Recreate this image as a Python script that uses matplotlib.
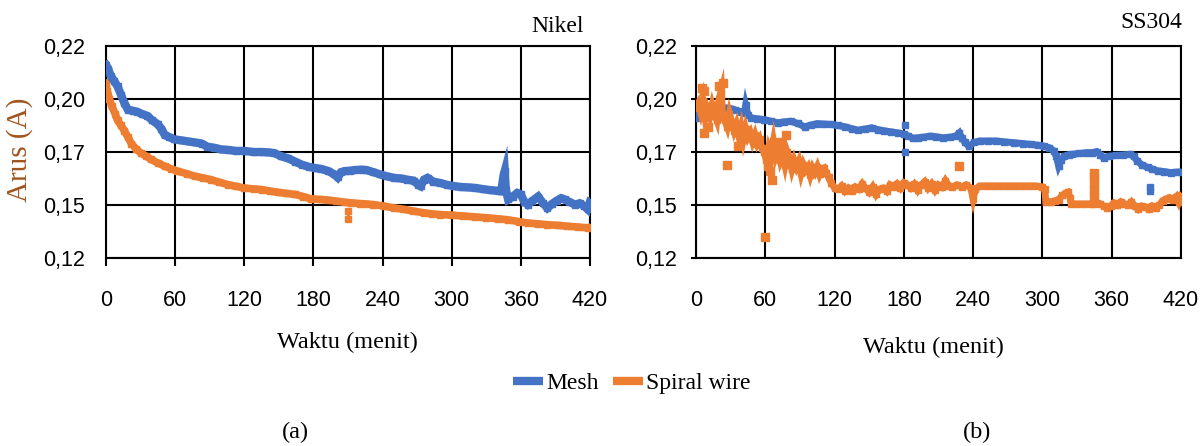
import matplotlib
matplotlib.use('Agg')
import matplotlib.pyplot as plt
from matplotlib.lines import Line2D

BLUE = '#4472C4'
ORANGE = '#ED7D31'

# Nikel, Mesh
nik_mesh_t = [0, 2, 4, 7, 10, 13, 16, 19, 23, 27, 31, 36, 40, 45, 48, 51, 55, 59, 65, 71,
              77, 83, 88, 94, 100, 106, 113, 120, 128, 135, 141, 146, 152, 158, 164, 170,
              176, 181, 187, 193, 198, 201, 204, 207, 212, 216, 222, 226, 232, 238, 244,
              250, 256, 261, 267, 271, 273, 276, 279, 284, 290, 296, 302, 308, 314, 320,
              327, 334, 340, 343, 345, 346, 347, 349, 353, 357, 360, 363, 366, 370, 375,
              379, 383, 387, 391, 395, 398, 402, 407, 411, 415, 418, 420]
nik_mesh_v = [0.211, 0.209, 0.206, 0.2035, 0.201, 0.197, 0.193, 0.190, 0.1895, 0.189, 0.188,
              0.187, 0.185, 0.183, 0.181, 0.178, 0.177, 0.176, 0.1755, 0.175, 0.1745, 0.174,
              0.1725, 0.172, 0.1712, 0.171, 0.1705, 0.1705, 0.170, 0.170, 0.1698, 0.1695,
              0.168, 0.167, 0.1655, 0.164, 0.163, 0.1625, 0.162, 0.161, 0.1595, 0.158, 0.1605,
              0.161, 0.1612, 0.1615, 0.1617, 0.1615, 0.1605, 0.1594, 0.1585, 0.1578, 0.1575,
              0.157, 0.1565, 0.1545, 0.1539, 0.157, 0.1578, 0.156, 0.1554, 0.1545, 0.1539,
              0.1535, 0.1533, 0.1531, 0.1525, 0.152, 0.1517, 0.1515, 0.159, 0.161, 0.152,
              0.1476, 0.149, 0.1507, 0.150, 0.1465, 0.1452, 0.147, 0.149, 0.146, 0.1436,
              0.1455, 0.147, 0.1482, 0.1476, 0.1465, 0.1452, 0.1458, 0.1445, 0.143, 0.1465]

# Nikel, Spiral wire
nik_spiral_t = [0, 1, 3, 5, 8, 10, 13, 16, 19, 22, 26, 30, 35, 39, 45, 51, 56, 62, 70, 77,
                84, 91, 98, 106, 113, 120, 128, 135, 142, 149, 156, 164, 171, 178, 186, 193,
                200, 207, 213, 220, 226, 232, 241, 250, 258, 266, 276, 283, 290, 300, 310,
                320, 330, 340, 349, 358, 366, 375, 383, 392, 400, 410, 418, 420]
nik_spiral_v = [0.2025, 0.199, 0.195, 0.1915, 0.188, 0.185, 0.1825, 0.180, 0.177, 0.174,
                0.1715, 0.1696, 0.168, 0.1665, 0.1648, 0.1633, 0.1622, 0.161, 0.1598, 0.1586,
                0.1578, 0.157, 0.1558, 0.1546, 0.1538, 0.153, 0.1526, 0.1523, 0.1516, 0.151,
                0.1505, 0.150, 0.149, 0.1479, 0.1476, 0.1473, 0.1468, 0.1463, 0.146, 0.1457,
                0.1455, 0.1452, 0.1445, 0.1436, 0.143, 0.1422, 0.1413, 0.1408, 0.1405, 0.1402,
                0.1398, 0.1394, 0.139, 0.1385, 0.138, 0.1372, 0.1365, 0.1361, 0.1357, 0.1354,
                0.135, 0.1346, 0.1342, 0.1345]
nik_spiral_out_t = [210, 210]
nik_spiral_out_v = [0.142, 0.1385]

# SS304, Mesh
ss_mesh_t = [0, 1, 3, 5, 8, 11, 13, 17, 20, 22, 26, 30, 34, 39, 42, 43, 45, 48, 53, 59, 65,
             71, 76, 82, 88, 94, 100, 105, 111, 117, 123, 129, 135, 140, 146, 152, 158, 163,
             169, 175, 180, 184, 188, 192, 197, 203, 208, 214, 220, 225, 228, 230, 233, 236,
             241, 246, 253, 260, 267, 275, 283, 290, 296, 301, 306, 310, 312, 314, 316, 319,
             323, 326, 332, 338, 343, 347, 350, 353, 358, 364, 370, 376, 379, 382, 386, 391,
             395, 400, 405, 411, 416, 420]
ss_mesh_v = [0.186, 0.1895, 0.1915, 0.1925, 0.190, 0.189, 0.1885, 0.1905, 0.191, 0.190,
             0.1908, 0.1905, 0.1898, 0.189, 0.1885, 0.192, 0.1875, 0.186, 0.1857, 0.1853,
             0.1845, 0.1838, 0.1842, 0.1845, 0.1835, 0.1819, 0.1828, 0.1834, 0.1832, 0.183,
             0.1825, 0.1819, 0.181, 0.1803, 0.1808, 0.1814, 0.1805, 0.180, 0.1795, 0.179,
             0.1785, 0.1775, 0.1765, 0.1767, 0.177, 0.1775, 0.1772, 0.1767, 0.177, 0.1775,
             0.179, 0.1768, 0.1745, 0.1728, 0.1745, 0.1752, 0.1752, 0.1752, 0.1748, 0.1744,
             0.174, 0.1736, 0.1732, 0.1728, 0.172, 0.1705, 0.168, 0.1635, 0.166, 0.1681,
             0.1688, 0.1689, 0.1693, 0.1697, 0.1697, 0.1702, 0.1688, 0.1673, 0.168, 0.1684,
             0.1686, 0.1689, 0.168, 0.1658, 0.164, 0.1627, 0.162, 0.1611, 0.1608, 0.1603,
             0.1605, 0.1606]
ss_mesh_out_t = [181, 181, 393, 393]
ss_mesh_out_v = [0.1825, 0.1700, 0.1515, 0.1535]

# SS304, Spiral wire
ss_spiral_t = [0, 2, 4, 6, 8, 10, 12, 14, 16, 18, 20, 22, 23, 25, 27, 29, 31, 33, 35, 37,
               39, 41, 43, 45, 47, 49, 51, 53, 55, 57, 59, 61, 63, 65, 67, 69, 71, 73, 75,
               77, 79, 81, 83, 85, 87, 89, 91, 93, 95, 97, 99, 101, 103, 105, 107, 109, 111,
               113, 115, 117, 120, 123, 126, 129, 132, 135, 138, 141, 144, 147, 150, 153,
               156, 159, 162, 165, 168, 171, 174, 177, 180, 183, 186, 189, 192, 195, 198,
               201, 204, 207, 210, 213, 216, 219, 222, 226, 230, 234, 238, 240, 242, 246,
               252, 258, 264, 270, 276, 282, 288, 294, 300, 302, 303, 307, 311, 314, 317,
               320, 322, 324, 325, 330, 336, 342, 345, 347, 350, 353, 356, 359, 362, 365,
               368, 371, 374, 377, 380, 383, 386, 389, 392, 395, 398, 401, 404, 407, 410,
               413, 416, 418, 420]
ss_spiral_v = [0.191, 0.193, 0.189, 0.194, 0.186, 0.190, 0.187, 0.192, 0.188, 0.185, 0.195,
               0.199, 0.186, 0.185, 0.182, 0.188, 0.184, 0.180, 0.183, 0.178, 0.182, 0.176,
               0.181, 0.177, 0.179, 0.175, 0.178, 0.174, 0.176, 0.172, 0.170, 0.166, 0.172,
               0.169, 0.175, 0.168, 0.171, 0.166, 0.169, 0.164, 0.170, 0.167, 0.162, 0.166,
               0.163, 0.1655, 0.160, 0.164, 0.1615, 0.163, 0.159, 0.1625, 0.1605, 0.163,
               0.1595, 0.162, 0.1625, 0.160, 0.158, 0.1555, 0.153, 0.1525, 0.154, 0.1515,
               0.153, 0.1517, 0.1535, 0.1525, 0.155, 0.1528, 0.151, 0.1535, 0.150, 0.1525,
               0.153, 0.1515, 0.1545, 0.1535, 0.155, 0.153, 0.1555, 0.1545, 0.153, 0.1548,
               0.152, 0.1545, 0.156, 0.153, 0.155, 0.152, 0.1545, 0.1535, 0.1565, 0.154,
               0.1535, 0.1545, 0.1535, 0.1545, 0.153, 0.148, 0.1525, 0.154, 0.154, 0.154,
               0.154, 0.154, 0.154, 0.154, 0.154, 0.154, 0.1535, 0.1525, 0.1465, 0.1465,
               0.147, 0.1475, 0.1495, 0.1505, 0.151, 0.1485, 0.1455, 0.1455, 0.1455, 0.1455,
               0.1455, 0.146, 0.1455, 0.1445, 0.1435, 0.1445, 0.146, 0.145, 0.1465, 0.1455,
               0.145, 0.1465, 0.1445, 0.143, 0.1445, 0.144, 0.143, 0.1445, 0.1435, 0.1448,
               0.147, 0.1478, 0.1485, 0.1475, 0.149, 0.1465, 0.1494]
ss_spiral_out_t = [5, 7, 7, 10, 20, 23, 27, 36, 60, 62, 64, 66, 70, 74, 78, 228,
                   345, 345, 345, 345, 345]
ss_spiral_out_v = [0.200, 0.1986, 0.179, 0.182, 0.201, 0.2025, 0.1637, 0.173, 0.1298,
                   0.1635, 0.161, 0.157, 0.1735, 0.1745, 0.178, 0.1635,
                   0.149, 0.152, 0.155, 0.158, 0.1603]

yticks = [0.12, 0.145, 0.17, 0.195, 0.22]
ytick_labels = ['0,12', '0,15', '0,17', '0,20', '0,22']
xticks = [0, 60, 120, 180, 240, 300, 360, 420]

SERIF = ['Liberation Serif', 'DejaVu Serif']
SANS = ['Liberation Sans', 'DejaVu Sans']

W, H = 1200, 446


def fx(px):
    return px / W


def fy(py):
    return 1 - py / H


def style_axes(ax, xtick_len, ytick_len, xpad, ypad):
    ax.set_xlim(0, 420)
    ax.set_ylim(0.12, 0.22)
    ax.set_xticks(xticks)
    ax.set_yticks(yticks)
    ax.set_yticklabels(ytick_labels)
    ax.grid(True, color='black', linewidth=1.5)
    ax.set_axisbelow(True)
    for s in ax.spines.values():
        s.set_color('black')
        s.set_linewidth(1.5)
    ax.tick_params(axis='x', length=xtick_len, width=1.5, pad=xpad, labelsize=15.5)
    ax.tick_params(axis='y', length=ytick_len, width=1.5, pad=ypad, labelsize=15.5)
    for lbl in ax.get_xticklabels() + ax.get_yticklabels():
        lbl.set_family(SANS)


fig = plt.figure(figsize=(12, 4.46), dpi=100)

ax1 = fig.add_axes([fx(106), fy(258), fx(590 - 106), (258 - 46) / H])
ax2 = fig.add_axes([fx(696), fy(258), fx(1181 - 696), (258 - 46) / H])

# (a) Nikel
ax1.plot(nik_spiral_t, nik_spiral_v, color=ORANGE, lw=5.5, marker='s', ms=4.5,
         solid_joinstyle='miter', zorder=3)
ax1.plot(nik_spiral_out_t, nik_spiral_out_v, color=ORANGE, lw=2, marker='s', ms=4, zorder=3)
ax1.plot(nik_mesh_t, nik_mesh_v, color=BLUE, lw=6, marker='s', ms=4.5,
         solid_joinstyle='miter', zorder=4)
style_axes(ax1, 6, 0, 17, 15)

# (b) SS304
ax2.plot(ss_mesh_t, ss_mesh_v, color=BLUE, lw=5, marker='s', ms=4.5,
         solid_joinstyle='miter', zorder=3)
ax2.plot(ss_mesh_out_t, ss_mesh_out_v, color=BLUE, lw=0, marker='s', ms=5, zorder=3)
ax2.plot(ss_spiral_t, ss_spiral_v, color=ORANGE, lw=5, marker='s', ms=5,
         solid_joinstyle='miter', zorder=4)
ax2.plot(ss_spiral_out_t, ss_spiral_out_v, color=ORANGE, lw=0, marker='s', ms=5.5, zorder=4)
style_axes(ax2, 0, 3.6, 23, 10)

fig.text(fx(584), fy(27), 'Nikel', ha='right', va='center', family=SERIF, fontsize=17)
fig.text(fx(1182), fy(22), 'SS304', ha='right', va='center', family=SERIF, fontsize=17)

fig.text(fx(347), fy(342), 'Waktu (menit)', ha='center', va='center', family=SERIF, fontsize=17.5)
fig.text(fx(933), fy(347), 'Waktu (menit)', ha='center', va='center', family=SERIF, fontsize=17.5)
fig.text(fx(20), fy(150), 'Arus (A)', ha='center', va='center', rotation=90,
         family=SERIF, fontsize=21, color='#A0541E')

fig.text(fx(295), fy(432), '(a)', ha='center', va='center', family=SERIF, fontsize=17.5)
fig.text(fx(977), fy(432), '(b)', ha='center', va='center', family=SERIF, fontsize=17.5)

handles = [Line2D([], [], color=BLUE, lw=6, solid_capstyle='butt'),
           Line2D([], [], color=ORANGE, lw=6, solid_capstyle='butt')]
fig.legend(handles, ['Mesh', 'Spiral wire'], loc='center', bbox_to_anchor=(fx(632), fy(383)),
           ncol=2, frameon=False, handlelength=1.25, handletextpad=0.15, columnspacing=0.6,
           prop={'family': SERIF, 'size': 17})

fig.savefig('out.png', dpi=100)
